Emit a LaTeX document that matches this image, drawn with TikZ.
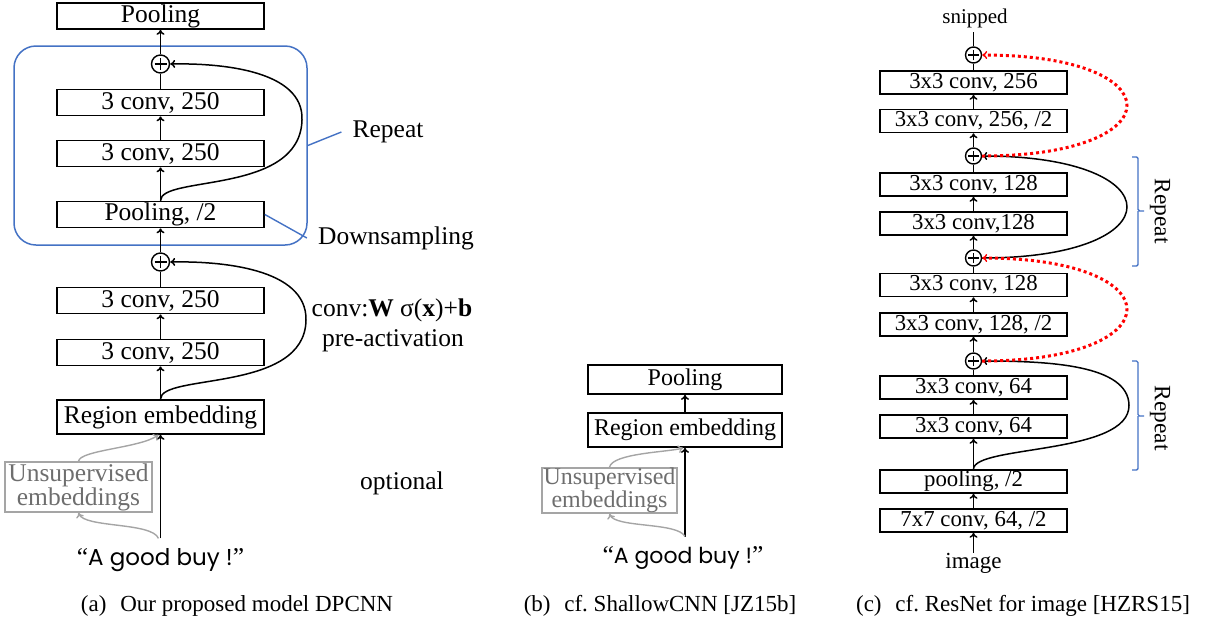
\documentclass[tikz,border=0pt]{standalone}
\usepackage{fontspec}
\setmainfont{Liberation Serif}
\newfontfamily\handfont{Poppins}
\usepackage{xcolor}
\usepackage{tikz}
\usetikzlibrary{arrows.meta, positioning, calc}

\definecolor{repblue}{RGB}{68,114,196}
\definecolor{unsupgray}{RGB}{165,165,165}
\definecolor{unsuptext}{RGB}{110,110,110}

\tikzset{
  layera/.style={draw, line width=1.7pt, minimum width=207pt, minimum height=26pt, inner sep=0pt, font=\fontsize{25.5}{28}\selectfont},
  layerb/.style={layera, minimum width=194pt, font=\fontsize{24}{27}\selectfont},
  layerc/.style={draw, line width=1.6pt, minimum width=187pt, minimum height=23pt, inner sep=0pt, font=\fontsize{22.8}{26}\selectfont},
  addop/.style={circle, draw, line width=1.4pt, minimum size=#1, inner sep=0pt,
    path picture={\draw[line width=1.3pt] ([xshift=-#1/3]path picture bounding box.center) -- ([xshift=#1/3]path picture bounding box.center)
      ([yshift=-#1/3]path picture bounding box.center) -- ([yshift=#1/3]path picture bounding box.center);}},
  addop/.default=18pt,
  unsup/.style={draw=unsupgray, line width=1.5pt, text=unsuptext, align=center, inner sep=0pt},
  flow/.style={-{To[length=5pt,width=8pt]}, line width=1.5pt},
  graylink/.style={-{To[length=5pt,width=8pt]}, unsupgray, line width=1.4pt},
  resdot/.style={-{To[length=5pt,width=8pt,line width=1.4pt]}, red, line width=3pt, dash pattern=on 3pt off 3pt},
  lbl/.style={inner sep=0pt, font=\fontsize{25.5}{28}\selectfont},
}

\begin{document}
\begin{tikzpicture}[x=1pt, y=-1pt]
  \useasboundingbox (0,0) rectangle (1206,625);

  % (a) DPCNN
  \node[draw=repblue, line width=1.5pt, rounded corners=22pt, minimum width=293pt, minimum height=199pt] at (160.5,145.5) (repA) {};
  \node[layera] at (160.5,16) (poolA) {Pooling};
  \node[addop] at (160.5,64) (addA2) {};
  \node[layera] at (160.5,102.5) (convA4) {3 conv, 250};
  \node[layera] at (160.5,153.5) (convA3) {3 conv, 250};
  \node[layera] at (160.5,214.5) (downA) {Pooling, /2};
  \node[addop] at (160.5,262) (addA1) {};
  \node[layera] at (160.5,300.5) (convA2) {3 conv, 250};
  \node[layera] at (160.5,352.5) (convA1) {3 conv, 250};
  \node[layera, minimum height=34pt] at (160.5,417) (regionA) {Region embedding};
  \node[unsup, minimum width=147pt, minimum height=50pt, font=\fontsize{25.5}{22}\selectfont] at (78.5,487) (unsupA) {Unsupervised\\embeddings};
  \node[lbl, outer sep=10pt] at (160.5,560) (textA) {“{\handfont\fontsize{23}{26}\selectfont A good buy !}”};

  \node[lbl] at (388,132) (repAtxt) {Repeat};
  \node[lbl] at (396,238) (downAtxt) {Downsampling};
  \node[lbl] at (392,310) (convAtxt) {conv:\textbf{W} σ(\textbf{x})+\textbf{b}};
  \node[lbl] at (393,341) (preAtxt) {pre-activation};
  \node[lbl] at (402,483) (optAtxt) {optional};

  \draw[repblue, line width=1.4pt] (repA.east) -- ([xshift=-11pt]repAtxt.west);
  \draw[repblue, line width=1.4pt] (downA.east) -- ([xshift=-11pt]downAtxt.west);

  \draw[flow] (addA2) -- (poolA);
  \draw[line width=1.5pt] (convA4) -- (addA2);
  \draw[flow] (convA3) -- (convA4);
  \draw[flow] (downA) -- (convA3);
  \draw[flow] (addA1) -- (downA);
  \draw[line width=1.5pt] (convA2) -- (addA1);
  \draw[flow] (convA1) -- (convA2);
  \draw[flow] (regionA) -- (convA1);
  \draw[flow] (textA) -- (regionA);
  \draw[flow] (downA.north) .. controls (160.5,175) and (300,195) .. (302,120) .. controls (304,70) and (220,63) .. (addA2.east);
  \draw[flow] (regionA.north) .. controls (160.5,373) and (305,393) .. (306,320) .. controls (307,268) and (220,261) .. (addA1.east);
  \draw[graylink] (unsupA.north) .. controls (80,450) and (140,448) .. ([xshift=-2pt]regionA.south);
  \draw[graylink] ([xshift=-2pt]textA.north) .. controls (152,522) and (84,528) .. (unsupA.south);

  % (b) ShallowCNN
  \node[layerb, minimum height=29pt] at (685,379.5) (poolB) {Pooling};
  \node[layerb, minimum height=34pt] at (685,430) (regionB) {Region embedding};
  \node[unsup, minimum width=135pt, minimum height=45pt, font=\fontsize{24}{21}\selectfont] at (609.5,490.5) (unsupB) {Unsupervised\\embeddings};
  \node[lbl, outer sep=10pt] at (683,558) (textB) {“{\handfont\fontsize{22}{25}\selectfont A good buy !}”};

  \draw[flow] (regionB) -- (poolB);
  \draw[flow] (regionB.south |- textB.north) -- (regionB.south);
  \draw[graylink] (unsupB.north) .. controls (612,453) and (670,452) .. ([xshift=-2pt]regionB.south);
  \draw[graylink] ([xshift=2pt]textB.north) .. controls (678,522) and (615,528) .. (unsupB.south);

  % (c) ResNet
  \node[inner sep=0pt, outer sep=4pt, font=\fontsize{21}{24}\selectfont] at (975,18) (snipC) {snipped};
  \node[addop=16pt] at (973.5,55) (addC4) {};
  \node[layerc] at (973.5,82.5) (conv256) {3x3 conv, 256};
  \node[layerc] at (973.5,121) (conv256s) {3x3 conv, 256, /2};
  \node[addop=16pt] at (973.5,156) (addC3) {};
  \node[layerc] at (973.5,184.5) (conv128d) {3x3 conv, 128};
  \node[layerc] at (973.5,223.5) (conv128c) {3x3 conv,128};
  \node[addop=16pt] at (973.5,258) (addC2) {};
  \node[layerc] at (973.5,285) (conv128b) {3x3 conv, 128};
  \node[layerc] at (973.5,324.5) (conv128s) {3x3 conv, 128, /2};
  \node[addop=16pt] at (973.5,361) (addC1) {};
  \node[layerc] at (973.5,387.5) (conv64b) {3x3 conv, 64};
  \node[layerc] at (973.5,426.5) (conv64a) {3x3 conv, 64};
  \node[layerc] at (973.5,481.5) (poolC) {pooling, /2};
  \node[layerc] at (973.5,520.5) (conv7) {7x7 conv, 64, /2};
  \node[inner sep=0pt, font=\fontsize{23}{26}\selectfont] at (973.5,563) (imgC) {image};

  \draw[line width=1.5pt] (addC4) -- (addC4 |- snipC.south);
  \draw[line width=1.5pt] (conv256) -- (addC4);
  \draw[flow] (conv256s) -- (conv256);
  \draw[flow] (addC3) -- (conv256s);
  \draw[line width=1.5pt] (conv128d) -- (addC3);
  \draw[flow] (conv128c) -- (conv128d);
  \draw[flow] (addC2) -- (conv128c);
  \draw[line width=1.5pt] (conv128b) -- (addC2);
  \draw[flow] (conv128s) -- (conv128b);
  \draw[flow] (addC1) -- (conv128s);
  \draw[line width=1.5pt] (conv64b) -- (addC1);
  \draw[flow] (conv64a) -- (conv64b);
  \draw[flow] (poolC) -- (conv64a);
  \draw[flow] (conv7) -- (poolC);
  \draw[flow] (imgC) -- (conv7);

  \draw[flow] (addC2.east) .. controls (1175,258) and (1175,156) .. (addC3.east);
  \draw[flow] (poolC.north) .. controls (973.5,445) and (1130,455) .. (1129,405) .. controls (1128,365) and (1050,361) .. (addC1.east);
  \draw[resdot] (addC3.east) .. controls (1175,156) and (1175,55) .. (addC4.east);
  \draw[resdot] (addC1.east) .. controls (1175,361) and (1175,258) .. (addC2.east);

  \draw[repblue, line width=1.4pt, rounded corners=1.5pt] (1132,157) -| (1138,211) -- (1144,211) (1138,211) |- (1132,266);
  \draw[repblue, line width=1.4pt, rounded corners=1.5pt] (1132,361) -| (1138,416) -- (1144,416) (1138,416) |- (1132,470);
  \node[rotate=-90, inner sep=0pt, font=\fontsize{23.4}{26}\selectfont] at (1160,211) (repC2) {Repeat};
  \node[rotate=-90, inner sep=0pt, font=\fontsize{23.4}{26}\selectfont] at (1160,418) (repC1) {Repeat};

  % captions
  \node[inner sep=0pt, font=\fontsize{23}{26}\selectfont] at (237,606) (capA) {(a)\hspace{0.6em}Our proposed model DPCNN};
  \node[inner sep=0pt, font=\fontsize{23}{26}\selectfont] at (660,606) (capB) {(b)\hspace{0.6em}cf.\ ShallowCNN [JZ15b]};
  \node[inner sep=0pt, font=\fontsize{23}{26}\selectfont] at (1023,606) (capC) {(c)\hspace{0.6em}cf.\ ResNet for image [HZRS15]};
\end{tikzpicture}
\end{document}
